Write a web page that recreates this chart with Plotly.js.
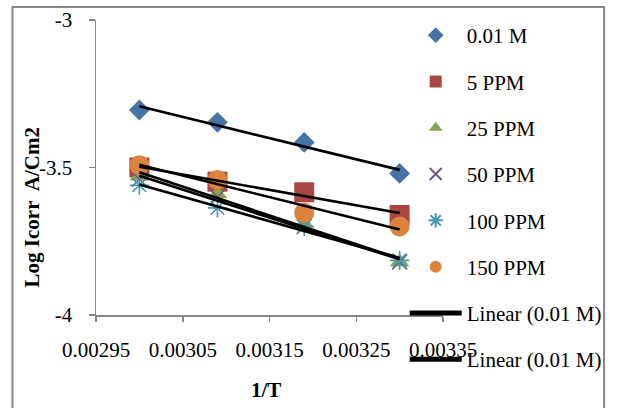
<!DOCTYPE html>
<html>
<head>
<meta charset="utf-8">
<script src="https://cdn.plot.ly/plotly-3.0.1.min.js"></script>
<style>
  html, body { margin: 0; padding: 0; background: #fff; }
  #chart { width: 619px; height: 408px; }
</style>
</head>
<body>
<div id="chart"></div>
<script>
// Reciprocal temperature (1/T) at the four test temperatures
const invT = [0.0030, 0.00309, 0.00319, 0.0033];

// Log of corrosion current density for each solution
const seriesNames = ['0.01 M', '5 PPM', '25 PPM', '50 PPM', '100 PPM', '150 PPM'];
const logI_001M  = [-3.305, -3.347, -3.415, -3.520];
const logI_5ppm  = [-3.500, -3.548, -3.584, -3.661];
const logI_25ppm = [-3.530, -3.590, -3.690, -3.820];
const logI_50ppm = [-3.540, -3.600, -3.700, -3.820];
const logI_100ppm = [-3.560, -3.637, -3.700, -3.815];
const logI_150ppm = [-3.492, -3.542, -3.653, -3.700];
const seriesValues = [logI_001M, logI_5ppm, logI_25ppm, logI_50ppm, logI_100ppm, logI_150ppm];

// Trendline legend labels (only the first two appear in the legend)
const trendNames = ['Linear (0.01 M)', 'Linear (0.01 M)'];

// Axis ticks
const xTickVals = [0.00295, 0.00305, 0.00315, 0.00325, 0.00335];
const xTickText = ['0.00295', '0.00305', '0.00315', '0.00325', '0.00335'];
const yTickVals = [-4, -3.5, -3];
const yTickText = ['-4', '-3.5', '-3'];

const FONT = 'Liberation Serif, Times New Roman, serif';
const FS = 21;

const markerStyles = [
  { symbol: 'diamond', size: 16, color: '#4572A7' },
  { symbol: 'square', size: 20, color: '#AA4643' },
  { symbol: 'triangle-up', size: 17, color: '#89A54E' },
  { symbol: 'x-thin-open', size: 15, color: '#71588F', line: { color: '#71588F', width: 1.6 } },
  { symbol: 'asterisk-open', size: 16, color: '#4198AF', line: { color: '#4198AF', width: 1.6 } },
  { symbol: 'circle', size: 20, color: '#DB843D' }
];

// Least-squares line through a series
function linearFit(xs, ys) {
  const n = xs.length;
  const mx = xs.reduce((a, b) => a + b, 0) / n;
  const my = ys.reduce((a, b) => a + b, 0) / n;
  let sxy = 0, sxx = 0;
  for (let i = 0; i < n; i++) {
    sxy += (xs[i] - mx) * (ys[i] - my);
    sxx += (xs[i] - mx) * (xs[i] - mx);
  }
  const slope = sxy / sxx;
  const icpt = my - slope * mx;
  const x0 = Math.min(...xs), x1 = Math.max(...xs);
  return { x: [x0, x1], y: [icpt + slope * x0, icpt + slope * x1] };
}

const traces = [];

seriesNames.forEach((name, i) => {
  traces.push({
    type: 'scatter',
    mode: 'markers',
    name: name,
    legendgroup: 'g' + i,
    x: invT,
    y: seriesValues[i],
    marker: markerStyles[i],
    cliponaxis: false
  });
});

seriesValues.forEach((vals, i) => {
  const fit = linearFit(invT, vals);
  traces.push({
    type: 'scatter',
    mode: 'lines',
    name: i < trendNames.length ? trendNames[i] : 'Linear',
    legendgroup: 't' + i,
    showlegend: i < trendNames.length,
    x: fit.x,
    y: fit.y,
    line: { color: '#000000', width: 2.6 },
    cliponaxis: false
  });
});

const axisColor = '#868686';

const layout = {
  width: 619,
  height: 408,
  margin: { l: 96, r: 174, t: 20, b: 93 },
  paper_bgcolor: '#ffffff',
  plot_bgcolor: '#ffffff',
  font: { family: FONT, size: FS, color: '#000000' },
  showlegend: true,
  xaxis: {
    range: [0.00295, 0.00335],
    tickmode: 'array',
    tickvals: xTickVals,
    ticktext: xTickText,
    showgrid: false,
    zeroline: false,
    showline: true,
    linecolor: axisColor,
    linewidth: 1.5,
    ticks: 'outside',
    ticklen: 5,
    tickwidth: 1.5,
    tickcolor: axisColor,
    ticklabelstandoff: 10,
    tickfont: { family: FONT, size: FS, color: '#000000' }
  },
  yaxis: {
    range: [-4, -3],
    tickmode: 'array',
    tickvals: yTickVals,
    ticktext: yTickText,
    showgrid: false,
    zeroline: false,
    showline: true,
    linecolor: axisColor,
    linewidth: 1.5,
    ticks: 'outside',
    ticklen: 6,
    tickwidth: 1.5,
    tickcolor: axisColor,
    ticklabelstandoff: 12,
    tickfont: { family: FONT, size: FS, color: '#000000' }
  },
  legend: {
    x: 0.8897,
    xanchor: 'left',
    y: 1.017,
    yanchor: 'top',
    bgcolor: 'rgba(0,0,0,0)',
    borderwidth: 0,
    itemwidth: 52,
    itemsizing: 'constant',
    tracegroupgap: 16,
    maxheight: 420,
    font: { family: FONT, size: FS, color: '#000000' }
  },
  annotations: [
    {
      xref: 'paper', yref: 'paper',
      x: 0.49, y: -0.254,
      xanchor: 'center', yanchor: 'middle',
      text: '1/T',
      showarrow: false,
      font: { family: FONT, size: FS, color: '#000000', weight: 'bold' }
    },
    {
      xref: 'paper', yref: 'paper',
      x: -0.1834, y: 0.366,
      xanchor: 'center', yanchor: 'middle',
      text: 'Log Icorr&nbsp; A/Cm2',
      textangle: -90,
      showarrow: false,
      font: { family: FONT, size: FS, color: '#000000', weight: 'bold' }
    }
  ],
  shapes: [
    {
      type: 'rect', xref: 'paper', yref: 'paper',
      x0: -0.2407, x1: 1.4642, y0: -0.40, y1: 1.0441,
      line: { color: axisColor, width: 2 },
      fillcolor: 'rgba(0,0,0,0)',
      layer: 'below'
    }
  ]
};

Plotly.newPlot('chart', traces, layout, { displayModeBar: false, staticPlot: true });
</script>
</body>
</html>
